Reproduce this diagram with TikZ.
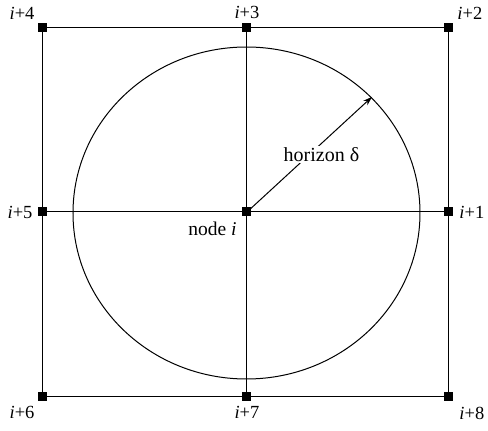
\documentclass[tikz,border=0pt]{standalone}
\usepackage{fontspec}
\setmainfont{Liberation Serif}
\usetikzlibrary{positioning, arrows.meta, calc}

\begin{document}
\begin{tikzpicture}[x=1pt, y=1pt, line width=1pt, font=\fontsize{18.5}{22}\selectfont,
    grid node/.style={fill=black, minimum size=9pt, inner sep=0pt},
    idx/.style={inner sep=0pt}]
        \useasboundingbox (-247,-219) rectangle (241,212);
        % discretisation nodes
        \node[grid node] (n0) at (0,0) {};
        \node[grid node] (n1) at (202,0) {};
        \node[grid node] (n2) at (202,184) {};
        \node[grid node] (n3) at (0,184) {};
        \node[grid node] (n4) at (-204,184) {};
        \node[grid node] (n5) at (-204,0) {};
        \node[grid node] (n6) at (-204,-185) {};
        \node[grid node] (n7) at (0,-185) {};
        \node[grid node] (n8) at (202,-185) {};
        \draw (n4.center) -- (n2.center) -- (n8.center) -- (n6.center) -- cycle;
        \draw (n5.center) -- (n1.center);
        \draw (n3.center) -- (n7.center);
        % horizon
        \draw (-0.5,-1) ellipse [x radius=173.5, y radius=166];
        \coordinate (tip) at (43.9:173.5 and 166);
        \draw[-{Stealth[length=9pt, width=6pt]}] (n0.center) -- (tip)
          node[midway, xshift=12pt, fill=white, inner sep=1pt, font=\fontsize{20}{24}\selectfont] (hor) {horizon δ};
        % labels
        \node[idx, below left=4pt and 5pt of n0, font=\fontsize{19.5}{23}\selectfont] (l0) {node \textit{i}};
        \node[idx, right=5pt of n1] (l1) {\textit{i}+1};
        \node[idx, above right=3pt and 3pt of n2] (l2) {\textit{i}+2};
        \node[idx, above=4pt of n3] (l3) {\textit{i}+3};
        \node[idx, above left=3pt and 3pt of n4] (l4) {\textit{i}+4};
        \node[idx, left=5pt of n5] (l5) {\textit{i}+5};
        \node[idx, below left=4pt and 3pt of n6] (l6) {\textit{i}+6};
        \node[idx, below=4pt of n7] (l7) {\textit{i}+7};
        \node[idx, below right=5pt and 5pt of n8] (l8) {\textit{i}+8};
      \end{tikzpicture}
\end{document}
